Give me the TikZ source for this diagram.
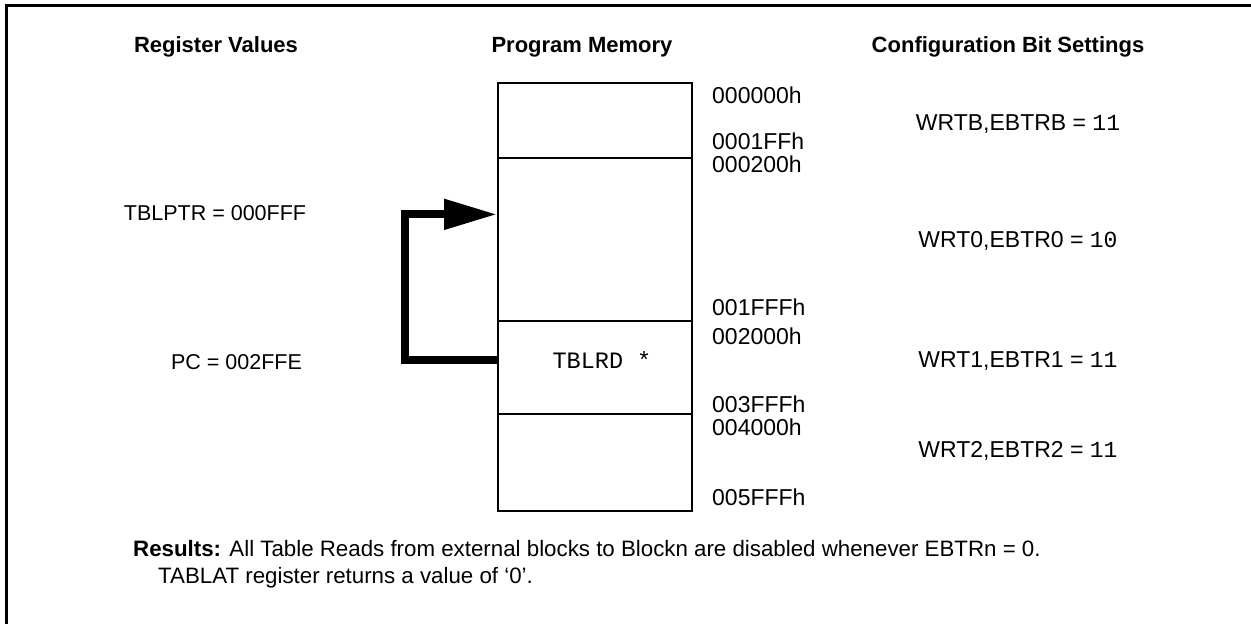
\documentclass[tikz,border=0pt]{standalone}
\usepackage{fontspec}
\setmainfont{Liberation Sans}
\setmonofont{Liberation Mono}
\usetikzlibrary{arrows.meta}
\begin{document}
\begin{tikzpicture}[x=1pt,y=-1pt,
  txt/.style={inner sep=0pt,font=\fontsize{23}{27}\selectfont},
  reg/.style={inner sep=0pt,font=\fontsize{21.5}{26}\selectfont},
  hdr/.style={inner sep=0pt,font=\fontsize{22}{26}\selectfont\bfseries},
  addr/.style={txt,anchor=west},
  res/.style={inner sep=0pt,anchor=west,font=\fontsize{22.3}{26}\selectfont},
  blk/.style={draw,line width=2pt,minimum width=194pt,inner sep=0pt,anchor=north west},
  flow/.style={line width=8pt,-{Triangle[length=53pt,width=29pt]}},
  frame/.style={line width=2.5pt}]
\useasboundingbox (0,0) rectangle (1251,624);
% frame
\draw[frame] (6.7,624) -- (6.7,5.5) -- (1251,5.5);
% headers
\node[hdr] (h1) at (216,47) {Register Values};
\node[hdr] (h2) at (582,47) {Program Memory};
\node[hdr] (h3) at (1008,47) {Configuration Bit Settings};
% memory blocks
\node[blk,minimum height=74.7pt] (b0) at (497,82) {};
\node[blk,minimum height=163.3pt] (b1) at (497,156.7) {};
\node[blk,minimum height=93.3pt] (b2) at (497,320) {};
\node[blk,minimum height=97pt] (b3) at (497,413.3) {};
\node[txt,font=\fontsize{23.5}{27}\ttfamily] (tb) at (602,360) {TBLRD *};
% addresses
\node[addr] (a0) at (712,95.5) {000000h};
\node[addr] (a1) at (712,141) {0001FFh};
\node[addr] (a2) at (712,164) {000200h};
\node[addr] (a3) at (712,307.5) {001FFFh};
\node[addr] (a4) at (712,336) {002000h};
\node[addr] (a5) at (712,404) {003FFFh};
\node[addr] (a6) at (712,427) {004000h};
\node[addr] (a7) at (712,497.5) {005FFFh};
% config bits
\node[txt] (c0) at (1018,124) {WRTB,EBTRB = {\ttfamily 11}};
\node[txt] (c1) at (1018,241) {WRT0,EBTR0 = {\ttfamily 10}};
\node[txt] (c2) at (1018,361) {WRT1,EBTR1 = {\ttfamily 11}};
\node[txt] (c3) at (1018,451) {WRT2,EBTR2 = {\ttfamily 11}};
% registers
\node[reg] (r0) at (215,213) {TBLPTR = 000FFF};
\node[reg] (r1) at (236.5,362) {PC = 002FFE};
% arrow
\draw[flow] ([yshift=7.5pt]b2.west) -- ++(-92,0) |- ([yshift=25pt]b1.west);
% results
\node[res] (res1) at (133,549) {\textbf{Results:} All Table Reads from external blocks to Blockn are disabled whenever EBTRn = 0.};
\node[res] (res2) at (158,578) {TABLAT register returns a value of ‘0’.};
\end{tikzpicture}
\end{document}
